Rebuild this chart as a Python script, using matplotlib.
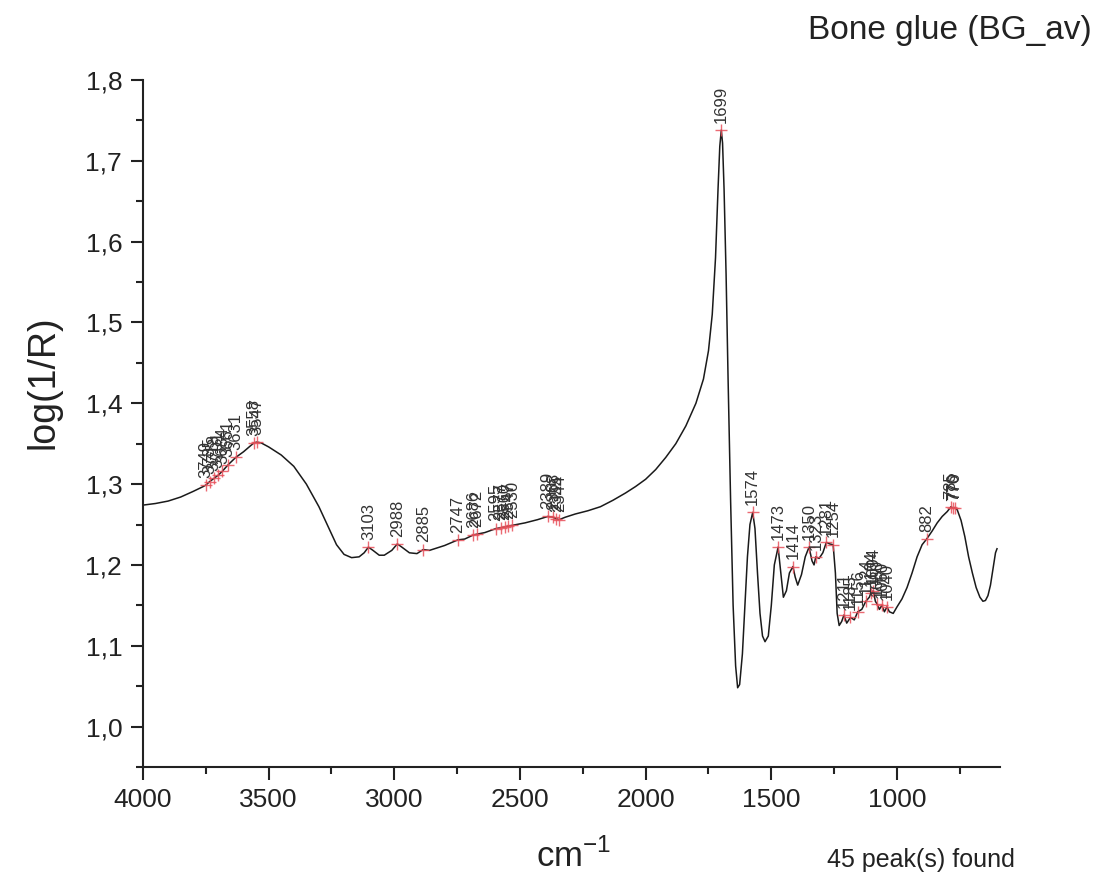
import numpy as np
import matplotlib
matplotlib.use("Agg")
from matplotlib import pyplot as plt
from matplotlib.ticker import MultipleLocator, FuncFormatter

plt.rcParams['font.family'] = ['Liberation Sans', 'DejaVu Sans']

# spectrum, read point by point (wavenumber cm-1, log(1/R))
wavenumber = [
    4000, 3950, 3900, 3850, 3800, 3760, 3749, 3735, 3718, 3701, 3684, 3661,
    3631, 3600, 3570, 3558, 3547, 3530, 3500, 3450, 3400, 3350, 3300, 3260,
    3230, 3200, 3170, 3140, 3120, 3103, 3085, 3060, 3040, 3010, 2988, 2970,
    2940, 2910, 2885, 2860, 2800, 2747, 2720, 2686, 2672, 2640, 2595, 2577,
    2560, 2547, 2530, 2480, 2430, 2389, 2368, 2355, 2344, 2320, 2280, 2230,
    2180, 2130, 2080, 2040, 2000, 1960, 1920, 1880, 1840, 1800, 1770, 1750,
    1735, 1722, 1712, 1705, 1699, 1694, 1688, 1680, 1672, 1662, 1652, 1642,
    1634, 1626, 1615, 1605, 1595, 1585, 1574, 1565, 1555, 1545, 1535, 1525,
    1512, 1500, 1488, 1473, 1462, 1452, 1440, 1428, 1414, 1405, 1395, 1380,
    1365, 1350, 1338, 1330, 1323, 1310, 1295, 1281, 1268, 1254, 1245, 1238,
    1230, 1220, 1211, 1200, 1185, 1170, 1156, 1140, 1124, 1110, 1104, 1094,
    1086, 1080, 1070, 1060, 1050, 1040, 1030, 1015, 1000, 980, 960, 940,
    920, 900, 882, 860, 840, 820, 800, 785, 776, 770, 760, 745, 730, 715,
    700, 685, 670, 658, 648, 638, 628, 618, 608, 602,
]
absorbance = [
    1.274, 1.276, 1.279, 1.284, 1.291, 1.297, 1.299, 1.303, 1.307, 1.311, 1.316, 1.324,
    1.333, 1.340, 1.348, 1.351, 1.352, 1.351, 1.346, 1.336, 1.322, 1.300, 1.272, 1.245,
    1.225, 1.213, 1.209, 1.210, 1.215, 1.222, 1.218, 1.212, 1.212, 1.218, 1.226, 1.222,
    1.215, 1.214, 1.219, 1.218, 1.224, 1.231, 1.232, 1.237, 1.238, 1.240, 1.245, 1.246,
    1.247, 1.248, 1.249, 1.252, 1.256, 1.260, 1.259, 1.257, 1.256, 1.259, 1.263, 1.267,
    1.272, 1.280, 1.289, 1.297, 1.306, 1.318, 1.333, 1.350, 1.372, 1.400, 1.430, 1.465,
    1.510, 1.580, 1.665, 1.718, 1.738, 1.722, 1.665, 1.560, 1.430, 1.280, 1.150, 1.075,
    1.048, 1.052, 1.090, 1.150, 1.210, 1.250, 1.265, 1.245, 1.190, 1.140, 1.112, 1.105,
    1.112, 1.150, 1.200, 1.222, 1.190, 1.160, 1.168, 1.190, 1.198, 1.185, 1.175, 1.188,
    1.210, 1.222, 1.205, 1.200, 1.210, 1.208, 1.215, 1.228, 1.226, 1.225, 1.190, 1.140,
    1.125, 1.130, 1.138, 1.128, 1.135, 1.132, 1.142, 1.145, 1.155, 1.160, 1.165, 1.168,
    1.155, 1.152, 1.145, 1.150, 1.142, 1.148, 1.142, 1.140, 1.148, 1.158, 1.172, 1.190,
    1.210, 1.225, 1.232, 1.242, 1.252, 1.260, 1.266, 1.272, 1.270, 1.271, 1.268, 1.255,
    1.235, 1.210, 1.190, 1.172, 1.160, 1.155, 1.156, 1.162, 1.175, 1.195, 1.215, 1.220,
]

# picked peaks
peaks = [
    3749, 3735, 3718, 3701, 3684, 3661, 3631, 3558, 3547,
    3103, 2988, 2885, 2747, 2686, 2672, 2595, 2577, 2560, 2547, 2530,
    2389, 2368, 2355, 2344, 1699, 1574, 1473, 1414, 1350, 1323, 1281, 1254,
    1211, 1185, 1156, 1124, 1104, 1094, 1080, 1060, 1040, 882, 785, 776, 770,
]

wn = np.array(wavenumber)
ab = np.array(absorbance)
pk = np.array(peaks)
# np.interp wants increasing x
pk_y = np.interp(pk, wn[::-1], ab[::-1])

fig = plt.figure(figsize=(11.05, 8.84), dpi=100)
ax = fig.add_axes([0.1294, 0.1324, 0.7756, 0.7771])

ax.plot(wn, ab, color='#1a1a1a', lw=1.1)
ax.plot(pk, pk_y, '+', color='#e8505a', ms=9, mew=1.0, alpha=0.85)
for x, y in zip(pk, pk_y):
    ax.text(x, y + 0.009, str(x), rotation=90, ha='center', va='bottom',
            fontsize=12, color='#333333')

ax.set_xlim(4000, 590)
ax.set_ylim(0.95, 1.8)
ax.xaxis.set_major_locator(MultipleLocator(500))
ax.xaxis.set_minor_locator(MultipleLocator(250))
ax.yaxis.set_major_locator(MultipleLocator(0.1))
ax.yaxis.set_minor_locator(MultipleLocator(0.05))
ax.yaxis.set_major_formatter(FuncFormatter(lambda v, p: f'{v:.1f}'.replace('.', ',')))

for s in ['top', 'right']:
    ax.spines[s].set_visible(False)
for s in ['left', 'bottom']:
    ax.spines[s].set_linewidth(1.5)
    ax.spines[s].set_color('#222222')
ax.tick_params(which='major', direction='out', length=9, width=1.5,
               labelsize=19, colors='#222222', pad=6)
ax.tick_params(which='minor', direction='out', length=5, width=1.5, colors='#222222')

ax.set_ylabel('log(1/R)', fontsize=27, color='#222222')
ax.yaxis.set_label_coords(-0.095, 0.56)
ax.set_xlabel('cm$^{\\mathregular{-1}}$', fontsize=25, color='#222222')
ax.xaxis.set_label_coords(0.503, -0.105)

fig.text(0.988, 0.966, 'Bone glue (BG_av)', ha='right', va='center',
         fontsize=24, color='#222222')
fig.text(0.918, 0.027, '45 peak(s) found', ha='right', va='center',
         fontsize=18, color='#222222')

fig.savefig('out.png', dpi=100)
